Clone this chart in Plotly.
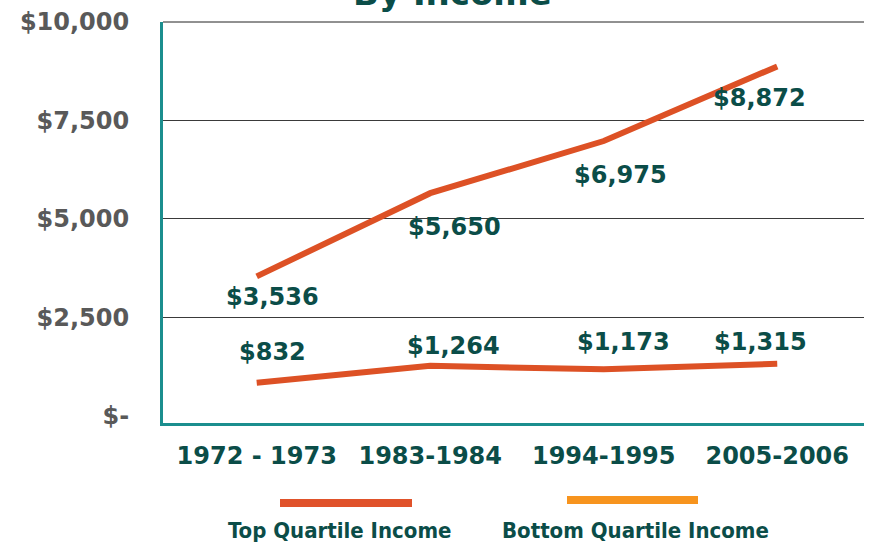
import plotly.graph_objects as go

periods = ["1972 - 1973", "1983-1984", "1994-1995", "2005-2006"]
top_quartile = [3536, 5650, 6975, 8872]
bottom_quartile = [832, 1264, 1173, 1315]
y_tick_vals = [0, 2500, 5000, 7500, 10000]
y_tick_text = ["$-", "$2,500", "$5,000", "$7,500", "$10,000"]

# label offsets (px) relative to points: (xshift, yshift)
top_offsets = [(16, -21), (24, -34), (17, -34), (-18, -32)]
bottom_offsets = [(16, 31), (23, 20), (20, 27), (-17, 22)]

LINE_RED = "#DD5125"
LEGEND_RED = "#E0522A"
LEGEND_ORANGE = "#F7941E"
TEAL_TEXT = "#0B4D48"
AXIS_TEAL = "#1B8E8E"
GRAY = "#595959"
FONT = "DejaVu Sans"
NARROW = "DejaVu Sans Condensed, DejaVu Sans, sans-serif"

W, H = 870, 544
ML, MR, MT, MB = 163, 6, 22, 121
pw = W - ML - MR
ph = H - MT - MB


def px_to_paper_x(px):
    return (px - ML) / pw


def px_to_paper_y(py):
    return (H - MB - py) / ph


xs = list(range(len(periods)))

fig = go.Figure()
fig.add_trace(go.Scatter(x=xs, y=top_quartile, mode="lines", name="Top Quartile Income",
                         line=dict(color=LINE_RED, width=6), showlegend=False))
fig.add_trace(go.Scatter(x=xs, y=bottom_quartile, mode="lines", name="Bottom Quartile Income",
                         line=dict(color=LINE_RED, width=6), showlegend=False))

annotations = []
for x, v, (dx, dy) in zip(xs, top_quartile, top_offsets):
    annotations.append(dict(x=x, y=v, xref="x", yref="y", text=f"${v:,}", showarrow=False,
                            xshift=dx, yshift=dy,
                            font=dict(family=FONT, size=24, color=TEAL_TEXT, weight="bold")))
for x, v, (dx, dy) in zip(xs, bottom_quartile, bottom_offsets):
    annotations.append(dict(x=x, y=v, xref="x", yref="y", text=f"${v:,}", showarrow=False,
                            xshift=dx, yshift=dy,
                            font=dict(family=FONT, size=24, color=TEAL_TEXT, weight="bold")))

# title, cut off at the top edge as in the reference
annotations.append(dict(x=px_to_paper_x(452), y=1, xref="paper", yref="paper",
                        text="By Income", showarrow=False, yanchor="bottom", xanchor="center",
                        yshift=7,
                        font=dict(family=FONT, size=34, color=TEAL_TEXT, weight="bold")))

# custom legend (line above label)
legend_items = [("Top Quartile Income", LEGEND_RED, 280, 412, 339, 503),
                ("Bottom Quartile Income", LEGEND_ORANGE, 567, 698, 635, 500)]

shapes = [
    # top edge of the plot area (the $10,000 gridline)
    dict(type="line", xref="paper", yref="paper", x0=0, x1=1, y0=1, y1=1,
         line=dict(color="#222222", width=1), layer="below"),
]
for label, color, x0, x1, xc, yl in legend_items:
    shapes.append(dict(type="line", xref="paper", yref="paper",
                       x0=px_to_paper_x(x0), x1=px_to_paper_x(x1),
                       y0=px_to_paper_y(yl), y1=px_to_paper_y(yl),
                       line=dict(color=color, width=8)))
    annotations.append(dict(x=px_to_paper_x(xc), y=px_to_paper_y(530), xref="paper", yref="paper",
                            text=label, showarrow=False, xanchor="center", yanchor="middle",
                            font=dict(family=NARROW, size=22, color=TEAL_TEXT, weight="bold")))

fig.update_layout(
    width=W, height=H,
    margin=dict(l=ML, r=MR, t=MT, b=MB, autoexpand=False),
    paper_bgcolor="white", plot_bgcolor="white",
    showlegend=False,
    annotations=annotations,
    shapes=shapes,
    xaxis=dict(
        tickmode="array", tickvals=xs, ticktext=periods,
        range=[-0.54, 3.5], showgrid=False, zeroline=False,
        showline=True, linecolor=AXIS_TEAL, linewidth=3,
        ticks="", ticklabelstandoff=9, automargin=False,
        tickfont=dict(family=FONT, size=24, color=TEAL_TEXT, weight="bold"),
    ),
    yaxis=dict(
        tickmode="array", tickvals=y_tick_vals, ticktext=y_tick_text,
        range=[-190, 10000], showgrid=True, gridcolor="#3a3a3a", gridwidth=1,
        zeroline=True, zerolinecolor="white", zerolinewidth=1,
        showline=True, linecolor=AXIS_TEAL, linewidth=3,
        ticks="", ticklabelstandoff=26, automargin=False,
        tickfont=dict(family=FONT, size=24, color=GRAY, weight="bold"),
    ),
)

fig.write_html("out.html", config={"displayModeBar": False},
               post_script="document.body.style.margin='0';")
